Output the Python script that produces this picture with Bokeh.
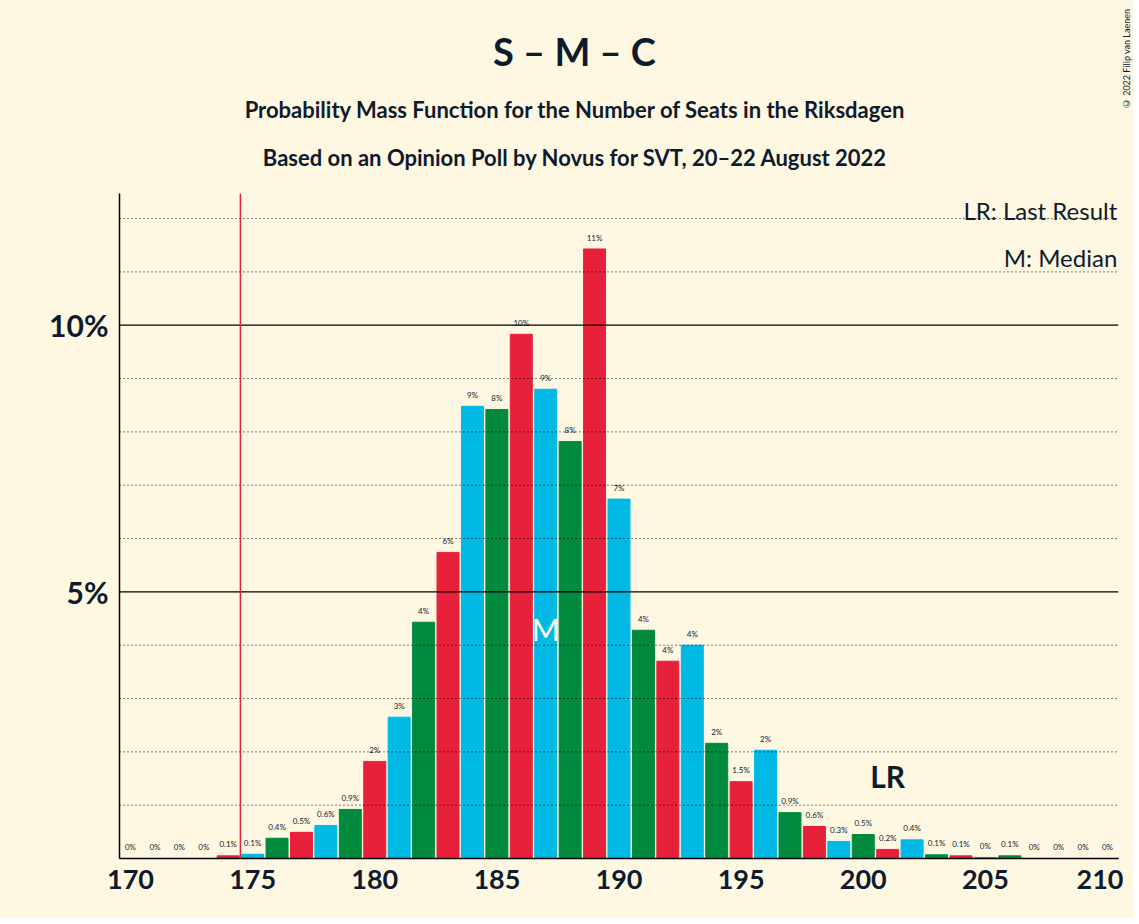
from bokeh.plotting import figure
from bokeh.models import Label, Span, FixedTicker, ColumnDataSource, Div
from bokeh.layouts import column
from bokeh.embed import file_html
from bokeh.resources import INLINE

seats = list(range(170, 211))
probs = [0, 0, 0, 0, 0.05, 0.08, 0.38, 0.49, 0.62, 0.92, 1.82, 2.65, 4.43, 5.74, 8.48, 8.42,
         9.83, 8.8, 7.82, 11.43, 6.74, 4.28, 3.7, 4.0, 2.16, 1.44, 2.03, 0.86, 0.6, 0.32,
         0.45, 0.17, 0.35, 0.07, 0.05, 0.02, 0.05, 0, 0, 0, 0]
labels = ["0%", "0%", "0%", "0%", "0.1%", "0.1%", "0.4%", "0.5%", "0.6%", "0.9%", "2%", "3%",
          "4%", "6%", "9%", "8%", "10%", "9%", "8%", "11%", "7%", "4%", "4%", "4%", "2%",
          "1.5%", "2%", "0.9%", "0.6%", "0.3%", "0.5%", "0.2%", "0.4%", "0.1%", "0.1%", "0%",
          "0.1%", "0%", "0%", "0%", "0%"]
last_result = 174.5
median = 187
lr_seat = 201

RED, BLUE, GREEN = "#E8213A", "#00B9E4", "#008A3E"
palette = {0: RED, 1: BLUE, 2: GREEN}
colors = [palette[s % 3] for s in seats]
BG = "#FEF8E3"
DARK = "#0F1B2D"
FONT = "Lato"

html = f"""
<div style="position:relative;width:1123px;height:175px;font-family:Lato;color:{DARK};background:{BG}">
<div style="position:absolute;left:0;top:24px;width:1139px;text-align:center;font-size:38px;font-weight:bold;line-height:44px">S – M – C</div>
<div style="position:absolute;left:0;top:91px;width:1139px;text-align:center;font-size:22px;font-weight:bold;line-height:28px">Probability Mass Function for the Number of Seats in the Riksdagen</div>
<div style="position:absolute;left:0;top:139px;width:1139px;text-align:center;font-size:22px;font-weight:bold;line-height:28px">Based on an Opinion Poll by Novus for SVT, 20–22 August 2022</div>
<div style="position:absolute;left:1116px;top:4px;font-size:9px;writing-mode:vertical-rl;transform:rotate(180deg);white-space:nowrap">© 2022 Filip van Laenen</div>
</div>"""
div = Div(text=html, width=1123, height=175, styles={"background-color": BG})

p = figure(width=1123, height=733, x_range=(169.55, 210.45), y_range=(0, 12.47),
           output_backend="svg", toolbar_location=None,
           background_fill_color=BG, border_fill_color=BG,
           min_border_top=8, min_border_bottom=60, min_border_left=119, min_border_right=5)
p.outline_line_color = None
p.grid.grid_line_color = None

for v in range(1, 13):
    p.add_layout(Span(location=v, dimension="width", line_color="black",
                      line_width=1.2 if v % 5 == 0 else 1,
                      line_dash="solid" if v % 5 == 0 else "1 3"))

src = ColumnDataSource(dict(x=seats, top=probs, color=colors, lab=labels,
                            ly=[v + 0.12 for v in probs]))
p.vbar(x="x", top="top", width=0.9, color="color", source=src)
p.text(x="x", y="ly", text="lab", source=src, text_align="center", text_baseline="bottom",
       text_font_size="8px", text_color=DARK, text_font={"value": FONT})

p.add_layout(Span(location=last_result, dimension="height", line_color=RED, line_width=1.5))

p.add_layout(Label(x=median, y=4.3, text="M", text_align="center", text_baseline="middle",
                   text_font_size="30px", text_color="white", text_font=FONT))
p.add_layout(Label(x=lr_seat, y=1.55, text="LR", text_align="center", text_baseline="middle",
                   text_font_size="30px", text_font_style="bold", text_color=DARK, text_font=FONT))

p.xaxis.ticker = FixedTicker(ticks=[170, 175, 180, 185, 190, 195, 200, 205, 210])
p.yaxis.ticker = FixedTicker(ticks=[5, 10])
p.yaxis.major_label_overrides = {5: "5%", 10: "10%"}
for ax in (p.xaxis, p.yaxis):
    ax.axis_line_color = "black"
    ax.axis_line_width = 1.5
    ax.major_tick_line_color = None
    ax.minor_tick_line_color = None
    ax.major_label_text_font = FONT
    ax.major_label_text_font_style = "bold"
    ax.major_label_text_color = DARK
p.xaxis.major_label_text_font_size = "27px"
p.yaxis.major_label_text_font_size = "30px"

for y_page, text in [(200, "LR: Last Result"), (247, "M: Median")]:
    p.add_layout(Label(x=210.4, y=(848 - y_page) / 53.3, text=text, text_align="right",
                       text_baseline="middle", text_font_size="24px", text_color=DARK,
                       text_font=FONT))

layout = column(div, p, spacing=0, styles={"background-color": BG})
open("out.html", "w").write(file_html(layout, INLINE))
